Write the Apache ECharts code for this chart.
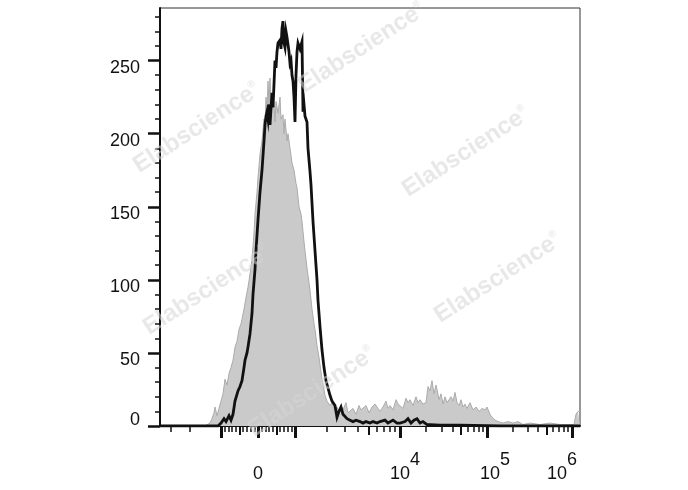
<!DOCTYPE html>
<html><head><meta charset="utf-8">
<script src="https://cdn.jsdelivr.net/npm/echarts@6/dist/echarts.min.js"></script>
<style>html,body{margin:0;padding:0;background:#fff}#c{width:688px;height:490px}</style>
</head><body><div id="c"></div>
<script>
// x values are display-scale channels (0..420), y values are event counts
const sampleCh = [0,58,61,64,66,69,71,73,75,78,80,82,84,85,87,88,90,92,93,95,96,98,100,102,104,105,106,107,108,109,110,112,113,115,116,117,118,120,121,122,123,124,125,126,127,128,129,130,131,132,133,134,135,136,137,138,140,142,143,144,145,147,148,150,151,153,154,155,157,158,160,162,164,166,168,170,172,175,177,179,181,183,185,187,190,193,196,200,203,206,210,213,217,220,225,228,233,237,240,245,248,251,254,257,260,263,267,270,280,300,340,420];
const sampleCount = [0,0,2,5,3,7,4,8,17,24,27,31,40,45,50,54,63,77,90,107,120,141,160,175,195,206,212,215,210,220,206,228,218,250,245,256,262,264,258,272,277,262,259,270,266,261,256,248,250,240,236,225,208,240,256,262,258,263,215,220,212,208,190,174,165,140,130,120,100,86,68,52,40,31,26,21,17,14,6,10,13,8,7,5,4,3,4,3,2,3,2,3,2,3,4,2,4,2,2,3,5,2,4,5,2,3,1,1,0.5,0.5,0,0];
const controlCh = [0,45,50,52,54,55,57,59,61,63,65,67,69,71,73,75,77,79,81,82,84,86,88,90,92,94,95,97,98,100,102,104,105,106,107,108,109,110,111,112,114,115,116,118,120,121,123,124,125,127,128,130,132,134,136,137,139,141,142,144,145,147,149,150,152,154,155,157,159,160,162,164,165,167,170,172,175,177,179,181,183,186,188,190,193,196,199,201,203,206,209,212,215,217,220,223,226,228,230,233,236,238,240,243,246,248,250,253,256,258,260,263,266,268,270,272,274,276,277,279,281,283,285,287,289,291,293,295,297,299,301,303,305,307,310,313,316,319,322,325,327,330,332,335,338,343,348,353,358,363,370,380,390,400,410,414,416,418,420];
const controlCount = [0,0,2,5,9,13,7,12,17,22,32,28,36,40,45,54,58,66,70,73,80,88,95,104,114,132,145,160,170,186,195,210,205,225,215,236,220,238,215,226,220,208,222,214,225,210,213,200,210,195,200,190,180,175,166,163,150,145,140,126,120,108,98,93,80,70,66,55,47,42,32,25,21,17,14,16,11,13,9,14,11,16,9,9,12,8,14,11,10,14,9,13,15,14,10,13,17,12,14,11,18,15,16,12,19,16,18,14,20,16,18,15,16,27,24,31,22,28,25,18,22,15,20,16,18,20,17,23,16,14,18,13,15,12,16,11,13,10,12,11,13,8,6,4,3,2,3,2,3,1,2,1,2,1,1,1,8,10,10];

const yLabelValues = [0,50,100,150,200,250];
const yMinorValues = [10,20,30,40,60,70,80,90,110,120,130,140,160,170,180,190,210,220,230,240,260,270,280];
const xMajorTicks = [-1000,0,1000,1e4,1e5,1e6];
const xMediumTicks = [-500,500,5000,5e4,5e5];
const xMinorTicks = [-3000,-2000,-900,-800,-700,-600,-400,-300,-200,-100,100,200,300,400,600,700,800,900,
  2000,3000,4000,6000,7000,8000,9000,2e4,3e4,4e4,6e4,7e4,8e4,9e4,2e5,3e5,4e5,6e5,7e5,8e5,9e5];
const xLabelValues = [0,1e4,1e5,1e6];
const xLabelBase = ['0','10','10','10'];
const xLabelExp = ['','4','5','6'];

// display transform (biexponential-like): fluorescence value -> channel
const decadePos = {3:135, 4:240, 5:327, 6:412};
function T(v){
  if (v >= 1000) {
    const l = Math.log10(v);
    let d = Math.floor(l); if (d > 5) d = 5; if (d < 3) d = 3;
    return decadePos[d] + (l - d) * (decadePos[d+1] - decadePos[d]);
  } else if (v > -1000) {
    return 98 + v * 0.037;
  }
  return 61 - 105 * Math.log10(-v / 1000);
}

const FONT = '"Liberation Sans", Arial, sans-serif';
const padL = [0, 10, 16, 0];
const padR = [0, 0, 0, 20];
const xRich = { z: {fontSize:18, lineHeight:18, fontFamily:FONT, color:'#111', padding:[14,0,0,0]} };
for (let i = 1; i < 4; i++) {
  xRich['b'+i] = {fontSize:18, lineHeight:18, fontFamily:FONT, color:'#111', padding:[14,0,0,padL[i]]};
  xRich['e'+i] = {fontSize:18, lineHeight:18, fontFamily:FONT, color:'#111', padding:[0,padR[i],14,0]};
}

const chart = echarts.init(document.getElementById('c'), null, {renderer:'canvas'});
const baseX = {type:'value', min:0, max:420, gridIndex:0, position:'bottom', splitLine:{show:false}};
const baseY = {type:'value', min:0, max:286, gridIndex:0, position:'left', splitLine:{show:false}};

function wm(x, y){
  return {type:'text', x:x, y:y, rotation: 33*Math.PI/180, z:100, silent:true,
    style:{text:'{a|Elabscience}{r|®}', align:'center', verticalAlign:'middle', textAlign:'center', textVerticalAlign:'middle',
      opacity:0.55,
      rich:{a:{fontSize:24, fontWeight:'bold', fontFamily:FONT, fill:'#d6d6d6', color:'#d6d6d6'},
            r:{fontSize:10, fontWeight:'bold', fontFamily:FONT, fill:'#d6d6d6', color:'#d6d6d6', padding:[0,0,14,0]}}}};
}

chart.setOption({
  animation:false,
  backgroundColor:'#fff',
  grid:{left:160, right:108, top:8, bottom:64, show:true, borderColor:'#333', borderWidth:1, backgroundColor:'transparent', outerBoundsMode:'none'},
  xAxis:[
    Object.assign({}, baseX, {
      axisLine:{show:true, onZero:false, lineStyle:{color:'#111', width:2}},
      axisTick:{show:true, inside:false, length:12, customValues: xMajorTicks.map(T), lineStyle:{color:'#111', width:3}},
      axisLabel:{show:true, margin:32, customValues: xLabelValues.map(T), hideOverlap:false,
        formatter: function(val){
          let idx = 0;
          for (let i = 0; i < xLabelValues.length; i++) if (Math.abs(T(xLabelValues[i]) - val) < 1e-6) idx = i;
          if (idx === 0) return '{z|' + xLabelBase[0] + '}';
          return '{b'+idx+'|' + xLabelBase[idx] + '}{e'+idx+'|' + xLabelExp[idx] + '}';
        },
        rich: xRich}
    }),
    Object.assign({}, baseX, {
      axisLine:{show:false}, axisLabel:{show:false},
      axisTick:{show:true, inside:false, length:9, customValues: xMediumTicks.map(T), lineStyle:{color:'#111', width:2}}
    }),
    Object.assign({}, baseX, {
      axisLine:{show:false}, axisLabel:{show:false},
      axisTick:{show:true, inside:false, length:6, customValues: xMinorTicks.map(T), lineStyle:{color:'#111', width:1.5}}
    })
  ],
  yAxis:[
    Object.assign({}, baseY, {
      axisLine:{show:true, onZero:false, lineStyle:{color:'#111', width:2}},
      axisTick:{show:true, inside:false, length:12, customValues: yLabelValues, lineStyle:{color:'#111', width:2.5}},
      axisLabel:{show:true, margin:20, customValues: yLabelValues,
        formatter: function(v){ return v === 0 ? '{z|0}' : '{n|' + v + '}'; },
        rich:{ n:{fontSize:18, lineHeight:18, fontFamily:FONT, color:'#111', padding:[14,0,0,0]},
               z:{fontSize:18, lineHeight:18, fontFamily:FONT, color:'#111', padding:[0,0,12,0]} }}
    }),
    Object.assign({}, baseY, {
      axisLine:{show:false}, axisLabel:{show:false},
      axisTick:{show:true, inside:false, length:5, customValues: yMinorValues, lineStyle:{color:'#111', width:1.5}}
    })
  ],
  series:[
    {type:'line', name:'control', xAxisIndex:0, yAxisIndex:0, symbol:'none', showSymbol:false, z:2,
      data: controlCh.map((c,i)=>[c, controlCount[i]]),
      lineStyle:{color:'#ababab', width:1}, areaStyle:{color:'#cacaca', opacity:1}},
    {type:'line', name:'sample', xAxisIndex:0, yAxisIndex:0, symbol:'none', showSymbol:false, z:3,
      data: sampleCh.map((c,i)=>[c, sampleCount[i]]),
      lineStyle:{color:'#111', width:2.8, join:'miter'}}
  ],
  graphic:[ wm(197,128), wm(362,48), wm(466,152), wm(498,278), wm(207,290), wm(312,392) ]
});
</script>
</body></html>
